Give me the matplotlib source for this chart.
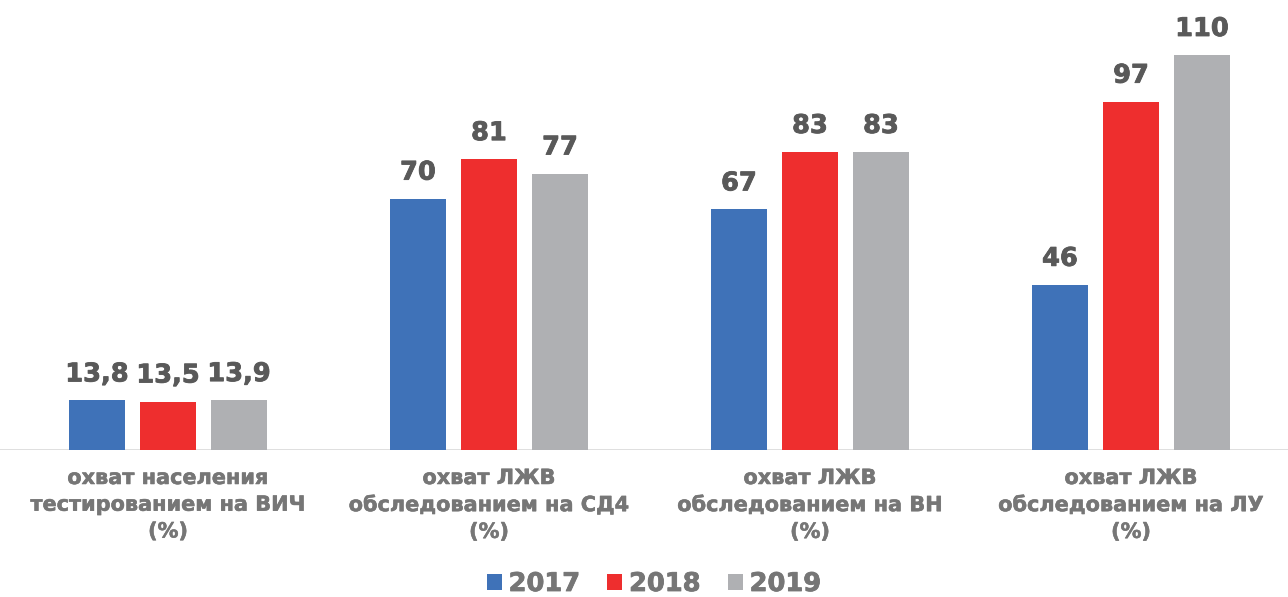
import matplotlib
matplotlib.use("Agg")
import matplotlib.pyplot as plt
import matplotlib.patheffects as pe
from matplotlib.patches import Patch
import numpy as np

categories = [
    "охват населения\nтестированием на ВИЧ\n(%)",
    "охват ЛЖВ\nобследованием на СД4\n(%)",
    "охват ЛЖВ\nобследованием на ВН\n(%)",
    "охват ЛЖВ\nобследованием на ЛУ\n(%)",
]
years = ["2017", "2018", "2019"]
values_2017 = [13.8, 70, 67, 46]
values_2018 = [13.5, 81, 83, 97]
values_2019 = [13.9, 77, 83, 110]
value_labels_2017 = ["13,8", "70", "67", "46"]
value_labels_2018 = ["13,5", "81", "83", "97"]
value_labels_2019 = ["13,9", "77", "83", "110"]

colors = ["#3F72B8", "#EE2E2E", "#AFB0B3"]
value_color = "#595959"
cat_color = "#767676"

plt.rcParams["font.family"] = ["DejaVu Sans"]


def heavy(color, w=0.6):
    return [pe.withStroke(linewidth=w, foreground=color)]


W, H = 1288, 597
fig = plt.figure(figsize=(W / 100, H / 100), dpi=100)
base_px = 450  # baseline, pixels from top
ax = fig.add_axes([0, (H - base_px) / H, 1, base_px / H])

px_per_cat = 321.0
first_center = 168.0
ax.set_xlim(-first_center / px_per_cat, (W - first_center) / px_per_cat)
px_per_unit = 395.0 / 110.0
ax.set_ylim(0, base_px / px_per_unit)

x = np.arange(len(categories))
bw = 56 / px_per_cat
step = 71 / px_per_cat
series = [values_2017, values_2018, values_2019]
labels = [value_labels_2017, value_labels_2018, value_labels_2019]
for i, (vals, labs) in enumerate(zip(series, labels)):
    xs = x + (i - 1) * step
    ax.bar(xs, vals, width=bw, color=colors[i], edgecolor="none", zorder=2)
    for xi, v, lab in zip(xs, vals, labs):
        ax.annotate(lab, (xi, v), xytext=(0, 13), textcoords="offset pixels",
                    ha="center", va="bottom", fontsize=18.5, fontweight="bold",
                    color=value_color, path_effects=heavy(value_color))

ax.axhline(0, color="#D9D9D9", lw=1.2, zorder=1)
for s in ax.spines.values():
    s.set_visible(False)
ax.set_xticks([])
ax.set_yticks([])
ax.patch.set_alpha(0)

for xi, cat in zip(x, categories):
    ax.annotate(cat, (xi, 0), xytext=(0, -18), textcoords="offset pixels",
                ha="center", va="top", fontsize=15, fontweight="bold",
                color=cat_color, linespacing=1.42, multialignment="center",
                path_effects=heavy(cat_color, 0.4))

handles = [Patch(facecolor=c, edgecolor="none") for c in colors]
leg = fig.legend(handles, years, loc="center", bbox_to_anchor=(654 / W, 1 - 584 / H),
                 ncol=3, frameon=False, handlelength=0.58, handleheight=0.58,
                 handletextpad=0.27, columnspacing=1.05,
                 prop={"size": 18.5, "weight": "bold"})
for t in leg.get_texts():
    t.set_color(cat_color)
    t.set_path_effects(heavy(cat_color))

fig.savefig("out.png", dpi=100)
